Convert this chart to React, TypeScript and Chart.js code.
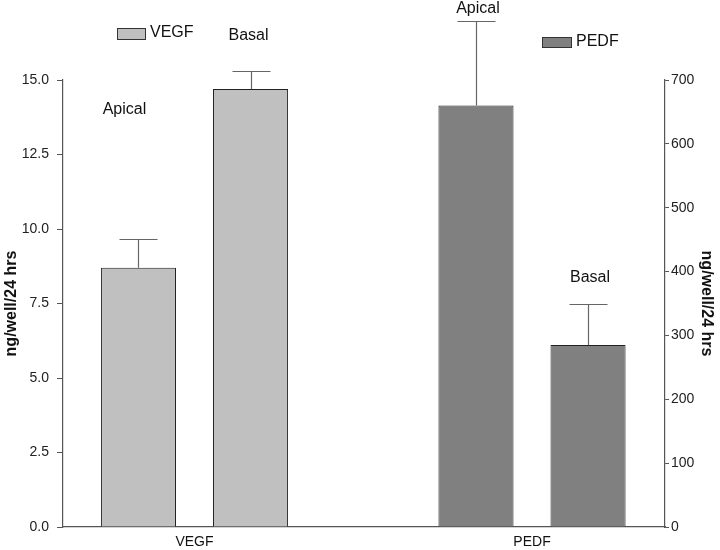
import React, { useEffect, useRef } from 'react';
import { Chart, registerables } from 'chart.js';

Chart.register(...registerables);

// ---- data ----
const categories = ['VEGF', 'PEDF'];
const sides = ['Apical', 'Basal'];
const vegfValues = [8.7, 14.7];
const vegfErrors = [0.97, 0.6];
const pedfValues = [660, 285];
const pedfErrors = [133, 64];
const leftTicks = [0, 2.5, 5, 7.5, 10, 12.5, 15];
const rightTicks = [0, 100, 200, 300, 400, 500, 600, 700];
const axisTitle = 'ng/well/24 hrs';

// ---- layout / style config ----
const FONT = "'Liberation Sans', Arial, Helvetica, sans-serif";
const vegfColor = '#c0c0c0';
const pedfColor = '#808080';
// label anchor: value on own axis, x offset from bar center
const vegfLabelAt = [14.0, 16.5];
const pedfLabelAt = [812, 390];
const vegfLabelDx = [-14, -2];
const pedfLabelDx = [2, 2];

const seriesDefs = [
  { name: 'VEGF', values: vegfValues, errors: vegfErrors, color: vegfColor, axis: 'y', catIndex: 0, labelAt: vegfLabelAt, labelDx: vegfLabelDx },
  { name: 'PEDF', values: pedfValues, errors: pedfErrors, color: pedfColor, axis: 'y2', catIndex: 1, labelAt: pedfLabelAt, labelDx: pedfLabelDx },
];

const legendPos: Record<string, { bx: number; by: number; bw: number; bh: number; tx: number; ty: number }> = {
  VEGF: { bx: 117, by: 28, bw: 28, bh: 11, tx: 150, ty: 33 },
  PEDF: { bx: 542, by: 37, bw: 29, bh: 10, tx: 576, ty: 42 },
};

function buildDatasets() {
  const out: any[] = [];
  seriesDefs.forEach((s) => {
    sides.forEach((side, si) => {
      out.push({
        label: s.name + ' ' + side,
        seriesName: s.name,
        sideIndex: si,
        yAxisID: s.axis,
        data: categories.map((_, ci) => ({ x: ci, y: ci === s.catIndex ? s.values[si] : null })),
        errors: categories.map((_, ci) => (ci === s.catIndex ? s.errors[si] : null)),
        labelAt: s.labelAt[si],
        labelDx: s.labelDx[si],
        backgroundColor: s.color,
        borderColor: '#222',
        borderWidth: 1,
        categoryPercentage: 0.664,
        barPercentage: 0.67,
        skipNull: true,
      });
    });
  });
  return out;
}

const annotPlugin = {
  id: 'annot',
  afterDatasetsDraw(chart: any) {
    const ctx = chart.ctx;
    ctx.save();
    chart.data.datasets.forEach((ds: any, di: number) => {
      const meta = chart.getDatasetMeta(di);
      const yScale = chart.scales[ds.yAxisID];
      meta.data.forEach((bar: any, i: number) => {
        const pt = ds.data[i];
        if (pt.y == null) return;
        const err = ds.errors[i];
        const x = Math.round(bar.x) + 0.5;
        const yTop = yScale.getPixelForValue(pt.y);
        const yErr = Math.round(yScale.getPixelForValue(pt.y + err)) + 0.5;
        ctx.strokeStyle = '#666';
        ctx.lineWidth = 1.2;
        ctx.beginPath();
        ctx.moveTo(x, yTop);
        ctx.lineTo(x, yErr);
        ctx.moveTo(x - 19, yErr);
        ctx.lineTo(x + 19, yErr);
        ctx.stroke();
        // side label
        ctx.fillStyle = '#111';
        ctx.font = `16px ${FONT}`;
        ctx.textAlign = 'center';
        ctx.textBaseline = 'middle';
        ctx.fillText(sides[ds.sideIndex], bar.x + ds.labelDx, yScale.getPixelForValue(ds.labelAt));
      });
    });
    // legend entries
    seriesDefs.forEach((s) => {
      const p = legendPos[s.name];
      ctx.fillStyle = s.color;
      ctx.fillRect(p.bx, p.by, p.bw, p.bh);
      ctx.strokeStyle = '#333';
      ctx.lineWidth = 1;
      ctx.strokeRect(p.bx + 0.5, p.by + 0.5, p.bw, p.bh);
      ctx.fillStyle = '#111';
      ctx.font = `16px ${FONT}`;
      ctx.textAlign = 'left';
      ctx.textBaseline = 'middle';
      ctx.fillText(s.name, p.tx, p.ty);
    });
    ctx.restore();
  },
};

export default function App() {
  const ref = useRef<HTMLCanvasElement | null>(null);
  useEffect(() => {
    if (!ref.current) return;
    Chart.defaults.font.family = FONT;
    const chart = new Chart(ref.current, {
      type: 'bar',
      data: { datasets: buildDatasets() },
      options: {
        animation: false,
        responsive: true,
        maintainAspectRatio: false,
        layout: { padding: { top: 80, left: 0, right: 0, bottom: 0 } },
        plugins: { legend: { display: false }, tooltip: { enabled: false } },
        scales: {
          x: {
            type: 'linear',
            position: 'bottom',
            offset: false,
            min: -0.3896,
            max: 1.394,
            afterBuildTicks: (s: any) => {
              s.ticks = categories.map((_, i) => ({ value: i }));
            },
            ticks: {
              callback: (v: any) => categories[v] ?? '',
              font: { size: 14 },
              color: '#111',
              padding: 7,
              maxRotation: 0,
              autoSkip: false,
            },
            grid: { drawOnChartArea: false, drawTicks: false, color: '#555', offset: false },
            border: { color: '#555', width: 1.2 },
            afterFit: (s: any) => {
              s.height = 23;
            },
          },
          y: {
            type: 'linear',
            position: 'left',
            min: 0,
            max: 15,
            afterBuildTicks: (s: any) => {
              s.ticks = leftTicks.map((v) => ({ value: v }));
            },
            ticks: {
              callback: (v: any) => Number(v).toFixed(1),
              font: { size: 14 },
              color: '#222',
              padding: 8,
            },
            grid: { drawOnChartArea: false, tickLength: 6, color: '#555' },
            border: { color: '#555', width: 1.2 },
            title: { display: true, text: axisTitle, font: { size: 16, weight: 'bold' }, color: '#111', padding: { top: 2, bottom: 0 } },
            afterFit: (s: any) => {
              s.width = 63;
            },
          },
          y2: {
            type: 'linear',
            position: 'right',
            min: 0,
            max: 700,
            afterBuildTicks: (s: any) => {
              s.ticks = rightTicks.map((v) => ({ value: v }));
            },
            ticks: { font: { size: 14 }, color: '#222', padding: 2 },
            grid: { drawOnChartArea: false, tickLength: 4, color: '#555' },
            border: { color: '#555', width: 1.2 },
            title: { display: true, text: axisTitle, font: { size: 16, weight: 'bold' }, color: '#111', padding: { top: 4, bottom: 0 } },
            afterFit: (s: any) => {
              s.width = 55;
            },
          },
        },
      } as any,
      plugins: [annotPlugin],
    });
    return () => chart.destroy();
  }, []);
  return (
    <div style={{ position: 'fixed', left: 0, top: 0, width: 720, height: 550, background: '#fff' }}>
      <canvas ref={ref} />
    </div>
  );
}
